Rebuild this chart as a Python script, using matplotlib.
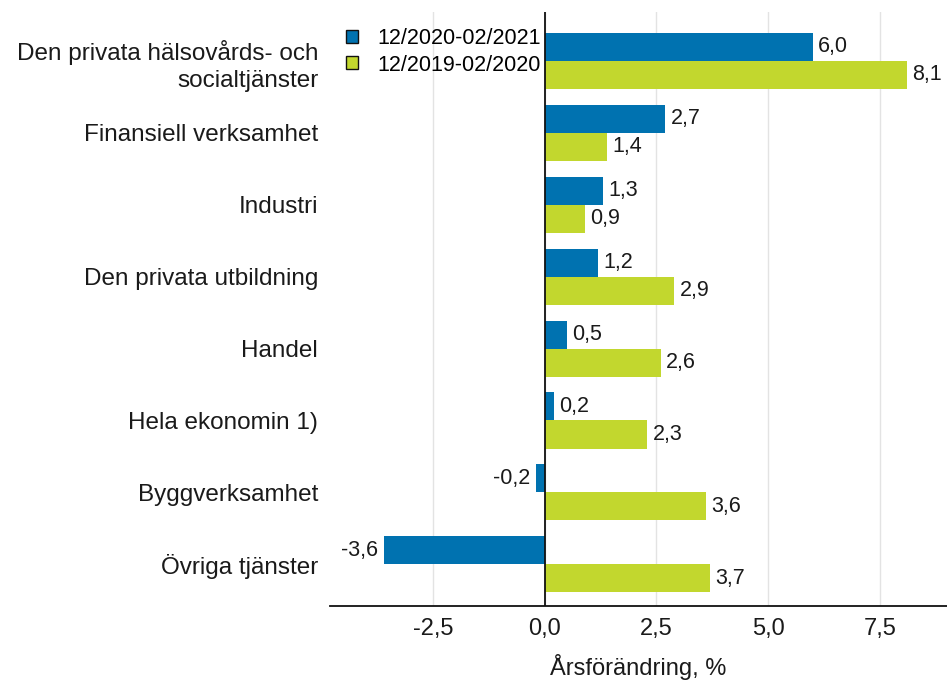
import matplotlib
matplotlib.use("Agg")
import matplotlib.pyplot as plt
import numpy as np

categories = ["Den privata hälsovårds- och\nsocialtjänster", "Finansiell verksamhet", "Industri",
              "Den privata utbildning", "Handel", "Hela ekonomin 1)", "Byggverksamhet", "Övriga tjänster"]
series_2021 = [6.0, 2.7, 1.3, 1.2, 0.5, 0.2, -0.2, -3.6]
series_2020 = [8.1, 1.4, 0.9, 2.9, 2.6, 2.3, 3.6, 3.7]
labels = ["12/2020-02/2021", "12/2019-02/2020"]
xticks = [-2.5, 0.0, 2.5, 5.0, 7.5]

plt.rcParams['font.family'] = ['Liberation Sans', 'DejaVu Sans']
blue = "#0072B0"
green = "#C2D72E"
txt = "#1a1a1a"

fig = plt.figure(figsize=(9.47, 6.87), dpi=100)
ax = fig.add_axes([330/947, (687-606)/687, 1-330/947, (606-12)/687])

y = np.arange(len(categories))
h = 0.39
b1 = ax.barh(y - h/2, series_2021, height=h, color=blue, label=labels[0], zorder=3)
b2 = ax.barh(y + h/2, series_2020, height=h, color=green, label=labels[1], zorder=3)

fs = 15.5
def fmt(v):
    return f"{v:.1f}".replace(".", ",")
for bars, vals in ((b1, series_2021), (b2, series_2020)):
    for bar, v in zip(bars, vals):
        yc = bar.get_y() + bar.get_height()/2
        if v >= 0:
            ax.text(v + 0.12, yc, fmt(v), va="center", ha="left", fontsize=fs, color=txt)
        else:
            ax.text(v - 0.12, yc, fmt(v), va="center", ha="right", fontsize=fs, color=txt)

ax.set_xlim(-4.8, 9.0)
ax.set_ylim(7.58, -0.68)
ax.set_yticks(y)
ax.set_yticklabels(categories, fontsize=17.5, color=txt, linespacing=1.28)
ax.tick_params(axis="y", length=0, pad=8.5)
ax.set_xticks(xticks)
ax.set_xticklabels([fmt(t) for t in xticks], fontsize=17, color=txt)
ax.tick_params(axis="x", length=0, pad=9)
ax.xaxis.grid(True, color="#e3e3e3", linewidth=1, zorder=0)
ax.set_axisbelow(True)
for s in ("top", "right", "left"):
    ax.spines[s].set_visible(False)
ax.spines["bottom"].set_color("#111111")
ax.spines["bottom"].set_linewidth(1.3)
ax.axvline(0, color="#111111", linewidth=1.3, zorder=4)
ax.set_xlabel("Årsförändring, %", fontsize=17, color=txt, labelpad=10)

handles = [plt.Rectangle((0, 0), 1, 1, facecolor=blue, edgecolor="#111111", linewidth=1),
           plt.Rectangle((0, 0), 1, 1, facecolor=green, edgecolor="#111111", linewidth=1)]
leg = ax.legend(handles, labels, loc="upper left", bbox_to_anchor=(0.0, 1.0), frameon=False,
                fontsize=15.5, handlelength=0.55, handleheight=0.55, handletextpad=0.9,
                labelspacing=0.25, borderaxespad=0.35)

fig.savefig("out.png", dpi=100)
